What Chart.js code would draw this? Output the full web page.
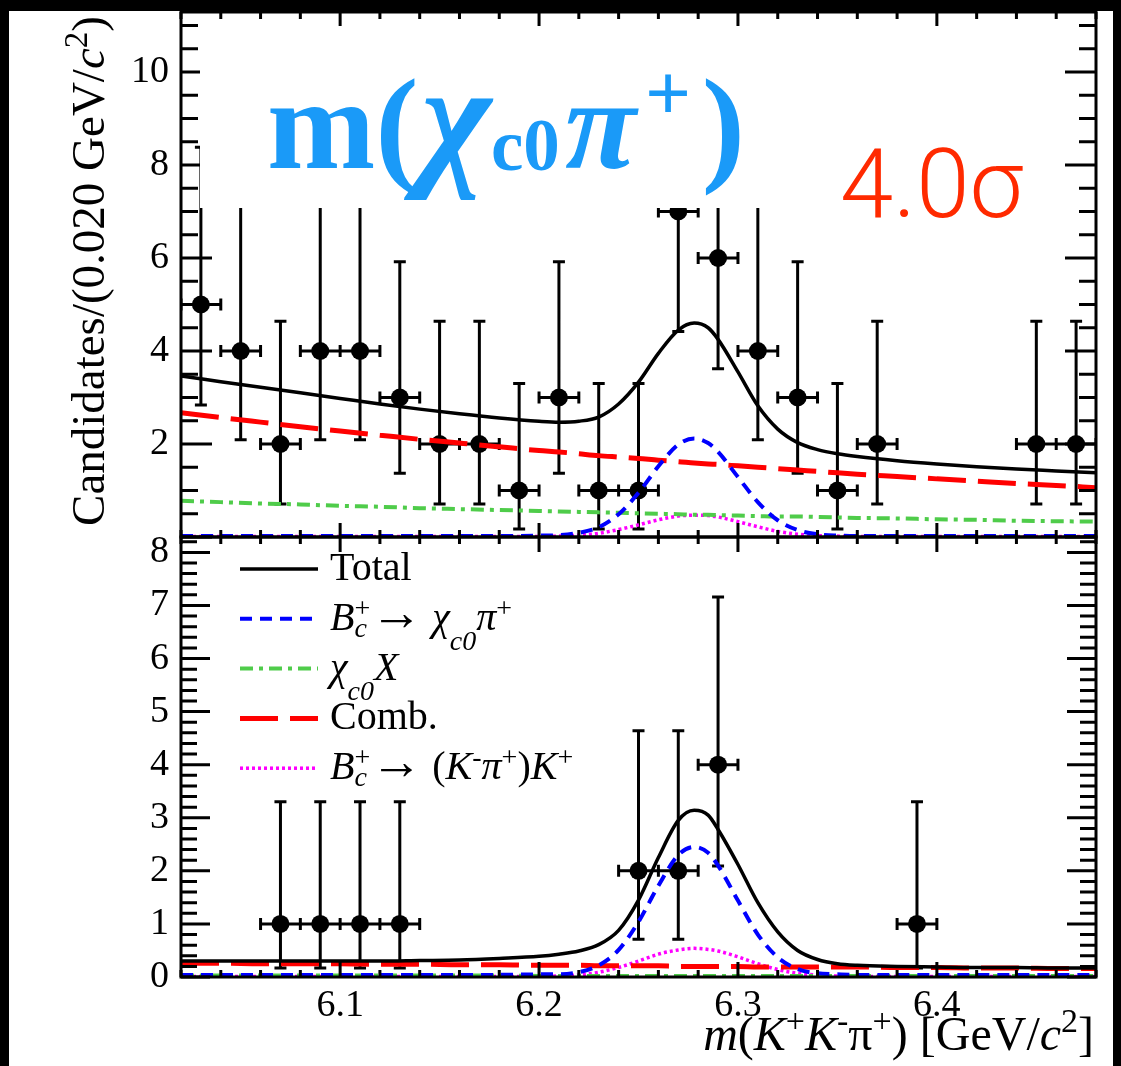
<!DOCTYPE html>
<html>
<head>
<meta charset="utf-8">
<title>m(K+K-pi+) fit</title>
<script src="https://cdn.jsdelivr.net/npm/chart.js@4.4.1/dist/chart.umd.min.js"></script>
<style>
  html, body { margin: 0; padding: 0; background: #000; }
  #page { position: relative; width: 1121px; height: 1066px; overflow: hidden; background: #000; }
  #sheet { position: absolute; left: 9px; top: 11px; width: 1104px; height: 1055px; background: #fff; }
  canvas { position: absolute; left: 0; top: 0; }
</style>
</head>
<body>
<div id="page">
  <div id="sheet"></div>
  <canvas id="topPanel" width="1121" height="1066"></canvas>
  <canvas id="bottomPanel" width="1121" height="1066"></canvas>
</div>
<script>
// ---- data -------------------------------------------------------------
const binWidth = 0.020;
const binCenters = [6.03, 6.05, 6.07, 6.09, 6.11, 6.13, 6.15, 6.17, 6.19, 6.21, 6.23, 6.25,
                    6.27, 6.29, 6.31, 6.33, 6.35, 6.37, 6.39, 6.41, 6.43, 6.45, 6.47];

// upper panel candidates per bin, with asymmetric Poisson errors
const topCounts  = [5, 4, 2, 4, 4, 3, 2, 2, 1, 3, 1, 1, 7, 6, 4, 3, 1, 2, 0, 0, 0, 2, 2];
const topErrLow  = [2.16, 1.91, 1.29, 1.91, 1.91, 1.63, 1.29, 1.29, 0.83, 1.63, 0.83, 0.83,
                    2.58, 2.38, 1.91, 1.63, 0.83, 1.29, 0, 0, 0, 1.29, 1.29];
const topErrHigh = [3.38, 3.16, 2.64, 3.16, 3.16, 2.92, 2.64, 2.64, 2.30, 2.92, 2.30, 2.30,
                    3.77, 3.58, 3.16, 2.92, 2.30, 2.64, 0, 0, 0, 2.64, 2.64];

// lower panel
const bottomCounts  = [0, 0, 1, 1, 1, 1, 0, 0, 0, 0, 0, 2, 2, 4, 0, 0, 0, 0, 1, 0, 0, 0, 0];
const bottomErrLow  = [0, 0, 0.83, 0.83, 0.83, 0.83, 0, 0, 0, 0, 0, 1.29, 1.29, 1.91, 0, 0, 0, 0, 0.83, 0, 0, 0, 0];
const bottomErrHigh = [0, 0, 2.30, 2.30, 2.30, 2.30, 0, 0, 0, 0, 0, 2.64, 2.64, 3.16, 0, 0, 0, 0, 2.30, 0, 0, 0, 0];

// fit components sampled along the mass axis
const curveMass = [6.02, 6.04, 6.06, 6.08, 6.10, 6.12, 6.14, 6.16, 6.18,
                   6.20, 6.21, 6.22, 6.23, 6.24, 6.25, 6.26, 6.27, 6.278, 6.285, 6.29, 6.30, 6.31, 6.32, 6.33, 6.34, 6.35, 6.36,
                   6.38, 6.40, 6.42, 6.44, 6.46, 6.48];

const topTotal   = [3.46, 3.34, 3.22, 3.10, 2.98, 2.86, 2.75, 2.65, 2.56,
                    2.49, 2.47, 2.49, 2.58, 2.86, 3.33, 3.95, 4.45, 4.60, 4.50, 4.25, 3.55, 2.82, 2.32, 2.03, 1.88, 1.79, 1.73,
                    1.64, 1.57, 1.51, 1.46, 1.42, 1.38];
const topSignal  = [0.02, 0.02, 0.02, 0.02, 0.02, 0.02, 0.02, 0.02, 0.02,
                    0.03, 0.04, 0.09, 0.21, 0.49, 0.95, 1.52, 1.99, 2.12, 2.02, 1.83, 1.29, 0.75, 0.36, 0.15, 0.06, 0.03, 0.02,
                    0.02, 0.02, 0.02, 0.02, 0.02, 0.02];
const topChicX   = [0.78, 0.75, 0.72, 0.70, 0.67, 0.65, 0.62, 0.60, 0.58,
                    0.56, 0.55, 0.54, 0.53, 0.52, 0.51, 0.50, 0.49, 0.48, 0.48, 0.47, 0.46, 0.45, 0.44, 0.44, 0.43, 0.42, 0.41,
                    0.40, 0.38, 0.37, 0.35, 0.34, 0.33];
const topComb    = [2.67, 2.57, 2.47, 2.37, 2.28, 2.19, 2.10, 2.02, 1.94,
                    1.86, 1.83, 1.79, 1.75, 1.72, 1.69, 1.65, 1.62, 1.59, 1.57, 1.56, 1.53, 1.50, 1.47, 1.44, 1.41, 1.38, 1.35,
                    1.30, 1.25, 1.20, 1.15, 1.11, 1.06];
const topPeaking = [0.01, 0.01, 0.01, 0.01, 0.01, 0.01, 0.01, 0.01, 0.01,
                    0.01, 0.02, 0.04, 0.08, 0.16, 0.26, 0.37, 0.45, 0.47, 0.46, 0.43, 0.33, 0.22, 0.12, 0.06, 0.03, 0.02, 0.01,
                    0.01, 0.01, 0.01, 0.01, 0.01, 0.01];

const bottomTotal   = [0.30, 0.30, 0.30, 0.30, 0.30, 0.30, 0.31, 0.32, 0.35,
                       0.39, 0.43, 0.49, 0.61, 0.88, 1.45, 2.25, 2.95, 3.14, 3.05, 2.78, 2.12, 1.40, 0.85, 0.50, 0.33, 0.25, 0.22,
                       0.20, 0.19, 0.18, 0.18, 0.17, 0.17];
const bottomSignal  = [0.04, 0.04, 0.04, 0.04, 0.04, 0.04, 0.04, 0.04, 0.04,
                       0.05, 0.05, 0.09, 0.22, 0.51, 1.04, 1.72, 2.30, 2.45, 2.34, 2.10, 1.44, 0.80, 0.37, 0.15, 0.07, 0.05, 0.04,
                       0.04, 0.04, 0.04, 0.04, 0.04, 0.04];
const bottomChicX   = [0.03, 0.03, 0.03, 0.03, 0.03, 0.03, 0.03, 0.03, 0.03,
                       0.02, 0.02, 0.02, 0.02, 0.02, 0.02, 0.02, 0.02, 0.02, 0.02, 0.02, 0.02, 0.02, 0.02, 0.02, 0.02, 0.02, 0.02,
                       0.02, 0.02, 0.02, 0.02, 0.02, 0.02];
const bottomComb    = [0.26, 0.26, 0.25, 0.25, 0.25, 0.24, 0.24, 0.23, 0.23,
                       0.22, 0.22, 0.22, 0.21, 0.21, 0.21, 0.21, 0.20, 0.20, 0.20, 0.20, 0.20, 0.19, 0.19, 0.19, 0.19, 0.19, 0.19,
                       0.18, 0.18, 0.17, 0.17, 0.16, 0.16];
const bottomPeaking = [0.01, 0.01, 0.01, 0.01, 0.01, 0.01, 0.01, 0.01, 0.01,
                       0.01, 0.02, 0.04, 0.09, 0.18, 0.30, 0.43, 0.51, 0.54, 0.52, 0.49, 0.38, 0.25, 0.14, 0.07, 0.035, 0.02, 0.01,
                       0.01, 0.01, 0.01, 0.01, 0.01, 0.01];

// axes
const massRange = [6.02, 6.48];
const xTicks = [6.1, 6.2, 6.3, 6.4];
const topYTicks = [2, 4, 6, 8, 10];
const bottomYTicks = [0, 1, 2, 3, 4, 5, 6, 7, 8];

// ---- helpers ----------------------------------------------------------
const serif = '"Liberation Serif", "Times New Roman", serif';
Chart.defaults.font.family = serif;
Chart.defaults.color = '#000';

function points(xs, ys) {
  return xs.map((x, i) => ({ x: x, y: ys[i] === 0 ? null : ys[i] }));
}

function curve(label, ys, color, dash, width, legendText) {
  return {
    label: label,
    legendText: legendText,
    data: curveMass.map((x, i) => ({ x: x, y: ys[i] })),
    showLine: true,
    pointRadius: 0,
    borderColor: color,
    borderWidth: width,
    borderDash: dash,
    cubicInterpolationMode: 'monotone',
    order: 0
  };
}

function dataPoints(counts, lo, hi) {
  return {
    label: 'Data',
    data: points(binCenters, counts),
    errLow: lo,
    errHigh: hi,
    pointRadius: 9,
    pointHoverRadius: 9,
    borderWidth: 0,
    backgroundColor: '#000',
    order: 5
  };
}

// simple rich text: italics, sub/superscripts, extra gaps
function layoutRich(ctx, segs, size, weight) {
  const items = [];
  let x = 0, held = null;
  for (const s of segs) {
    const f = s.s || (s.sub || s.sup ? 0.7 : 1);
    const dy = s.dy != null ? s.dy : (s.sub ? 0.22 : s.sup ? -0.38 : 0);
    const font = (s.i ? 'italic ' : '') + weight + ' ' + Math.round(size * f) + 'px ' + serif;
    ctx.font = font;
    const w = ctx.measureText(s.t).width;
    items.push({ t: s.t, font: font, x: x, y: dy * size });
    if (s.keep) { held = w; continue; }
    x += (held != null ? Math.max(held, w) : w) + (s.gap || 0) * size;
    held = null;
  }
  return { items: items, width: x };
}

function drawRich(ctx, segs, x0, y0, size, weight, align) {
  const lay = layoutRich(ctx, segs, size, weight || 'normal');
  const start = align === 'right' ? x0 - lay.width : align === 'center' ? x0 - lay.width / 2 : x0;
  ctx.textAlign = 'left';
  ctx.textBaseline = 'alphabetic';
  lay.items.forEach(it => { ctx.font = it.font; ctx.fillText(it.t, start + it.x, y0 + it.y); });
}

function forSteps(min, max, minor, major, fn) {
  const k0 = Math.ceil(min / minor - 1e-6), k1 = Math.floor(max / minor + 1e-6);
  for (let k = k0; k <= k1; k++) {
    const v = k * minor;
    const r = v / major;
    fn(v, Math.abs(r - Math.round(r)) < 1e-6);
  }
}

// ---- plugins ----------------------------------------------------------
const errorBars = {
  id: 'errorBars',
  beforeDatasetDraw(chart, args) {
    const ds = chart.data.datasets[args.index];
    if (!ds.errLow) return;
    const { ctx, chartArea: a, scales: { x, y } } = chart;
    const half = binWidth / 2;
    ctx.save();
    ctx.beginPath();
    ctx.rect(a.left, a.top, a.right - a.left, a.bottom - a.top);
    ctx.clip();
    ctx.strokeStyle = '#000';
    ctx.lineWidth = 3;
    ctx.beginPath();
    ds.data.forEach((p, i) => {
      if (p.y == null) return;
      const px = x.getPixelForValue(p.x), py = y.getPixelForValue(p.y);
      const yl = y.getPixelForValue(p.y - ds.errLow[i]);
      const yh = y.getPixelForValue(p.y + ds.errHigh[i]);
      const xl = x.getPixelForValue(p.x - half), xh = x.getPixelForValue(p.x + half);
      ctx.moveTo(px, yl); ctx.lineTo(px, yh);
      ctx.moveTo(px - 6, yl); ctx.lineTo(px + 6, yl);
      ctx.moveTo(px - 6, yh); ctx.lineTo(px + 6, yh);
      ctx.moveTo(xl, py); ctx.lineTo(xh, py);
      ctx.moveTo(xl, py - 6); ctx.lineTo(xl, py + 6);
      ctx.moveTo(xh, py - 6); ctx.lineTo(xh, py + 6);
    });
    ctx.stroke();
    ctx.restore();
  }
};

// ROOT style frame with inward ticks on all four sides
const frameTicks = {
  id: 'frameTicks',
  afterDraw(chart, args, o) {
    const { ctx, chartArea: a, scales: { x, y } } = chart;
    ctx.save();
    ctx.strokeStyle = '#000';
    ctx.lineWidth = 3;
    ctx.beginPath();
    forSteps(x.min, x.max, o.xMinor, o.xMajor, (v, major) => {
      const px = x.getPixelForValue(v);
      const len = major ? o.xMajorLen : o.xMinorLen;
      ctx.moveTo(px, a.bottom); ctx.lineTo(px, a.bottom - len);
      ctx.moveTo(px, a.top); ctx.lineTo(px, a.top + len);
    });
    forSteps(y.min, y.max, o.yMinor, o.yMajor, (v, major) => {
      const py = y.getPixelForValue(v);
      const len = major ? o.yMajorLen : o.yMinorLen;
      ctx.moveTo(a.left, py); ctx.lineTo(a.left + len, py);
      ctx.moveTo(a.right, py); ctx.lineTo(a.right - len, py);
    });
    ctx.stroke();
    ctx.strokeRect(a.left, a.top, a.right - a.left, a.bottom - a.top);
    ctx.restore();
  }
};

// headline box, significance and the shared y-axis title
const topDecor = {
  id: 'topDecor',
  afterDraw(chart) {
    const ctx = chart.ctx;
    ctx.save();
    ctx.fillStyle = '#fff';
    ctx.fillRect(200, 26, 575, 182);
    ctx.fillStyle = '#1a9af8';
    drawRich(ctx, [
      { t: 'm' }, { t: '(', gap: 0.02 }, { t: 'χ', i: 1, s: 1.15, gap: 0.0 },
      { t: 'c0', s: 0.56, dy: 0.015, gap: 0.04 },
      { t: 'π', i: 1, gap: 0.07 }, { t: '+', s: 0.62, dy: -0.37, gap: 0.08 }, { t: ')' }
    ], 267, 168, 130, 'bold');

    ctx.fillStyle = '#ff2a00';
    ctx.font = '300 96px Roboto, "Open Sans", sans-serif';
    ctx.textAlign = 'left';
    ctx.textBaseline = 'alphabetic';
    ctx.fillText('4.0σ', 840, 217);

    ctx.fillStyle = '#000';
    ctx.translate(104, 271);
    ctx.rotate(-Math.PI / 2);
    drawRich(ctx, [
      { t: 'Candidates/(0.020 GeV/' }, { t: 'c', i: 1 }, { t: '2', sup: 1, dy: -0.36 }, { t: ')' }
    ], 0, 0, 47, 'normal', 'center');
    ctx.restore();
  }
};

const bottomDecor = {
  id: 'bottomDecor',
  afterDraw(chart) {
    const ctx = chart.ctx;
    ctx.save();
    // legend
    chart.data.datasets.forEach((ds, i) => {
      if (!ds.legendText) return;
      const rowY = 569 + i * 49.8;
      ctx.strokeStyle = ds.borderColor;
      ctx.lineWidth = ds.borderWidth;
      ctx.setLineDash(ds.borderDash || []);
      ctx.beginPath();
      ctx.moveTo(240, rowY);
      ctx.lineTo(318, rowY);
      ctx.stroke();
      ctx.setLineDash([]);
      ctx.fillStyle = '#000';
      drawRich(ctx, ds.legendText, 330, rowY + 11, 40, 'normal');
    });
    // x-axis title
    ctx.fillStyle = '#000';
    drawRich(ctx, [
      { t: 'm', i: 1 }, { t: '(' }, { t: 'K', i: 1 }, { t: '+', sup: 1 }, { t: 'K', i: 1 }, { t: '-', sup: 1 },
      { t: 'π' }, { t: '+', sup: 1 }, { t: ') [GeV/' }, { t: 'c', i: 1 }, { t: '2', sup: 1 }, { t: ']' }
    ], 1094, 1050, 48, 'normal', 'right');
    ctx.restore();
  }
};

// ---- charts -----------------------------------------------------------
const lineStyles = {
  total:   { color: '#000000', dash: [],            width: 3.5 },
  signal:  { color: '#0000ff', dash: [12, 8],       width: 4 },
  chicX:   { color: '#4fcc4a', dash: [13, 6, 4, 6], width: 4 },
  comb:    { color: '#ff0000', dash: [38, 12],      width: 5 },
  peaking: { color: '#ff00ff', dash: [3, 3],        width: 3.5 }
};

const arrow = { t: '→', s: 1.3, dy: 0, gap: 0.25 };
const legendLabels = {
  total: [{ t: 'Total' }],
  signal: [{ t: 'B', i: 1 }, { t: '+', sup: 1, dy: -0.33, keep: 1 }, { t: 'c', i: 1, sub: 1, dy: 0.18 },
           arrow, { t: 'χ', i: 1 }, { t: 'c0', i: 1, sub: 1, dy: 0.5 }, { t: 'π', i: 1 }, { t: '+', sup: 1, dy: -0.33 }],
  chicX: [{ t: 'χ', i: 1 }, { t: 'c0', i: 1, sub: 1, dy: 0.5 }, { t: 'X', i: 1 }],
  comb: [{ t: 'Comb.' }],
  peaking: [{ t: 'B', i: 1 }, { t: '+', sup: 1, dy: -0.33, keep: 1 }, { t: 'c', i: 1, sub: 1, dy: 0.18 },
            arrow, { t: '(' }, { t: 'K', i: 1 }, { t: '-', sup: 1, dy: -0.33 }, { t: 'π', i: 1 }, { t: '+', sup: 1, dy: -0.33 },
            { t: ')' }, { t: 'K', i: 1 }, { t: '+', sup: 1, dy: -0.33 }]
};

function curveSet(vals, withLegend) {
  const keys = ['total', 'signal', 'chicX', 'comb', 'peaking'];
  return keys.map(k => curve(k, vals[k], lineStyles[k].color, lineStyles[k].dash, lineStyles[k].width,
                             withLegend ? legendLabels[k] : null));
}

function yAxis(max, ticks) {
  return {
    type: 'linear', min: 0, max: max,
    grid: { display: false, drawTicks: false },
    border: { display: false },
    afterBuildTicks: s => { s.ticks = ticks.map(v => ({ value: v })); },
    afterFit: s => { s.width = 181; s.paddingTop = 0; s.paddingBottom = 0; },
    ticks: { font: { size: 38, family: serif }, color: '#000', padding: 12, autoSkip: false }
  };
}

new Chart(document.getElementById('topPanel'), {
  type: 'scatter',
  data: {
    datasets: curveSet({ total: topTotal, signal: topSignal, chicX: topChicX, comb: topComb, peaking: topPeaking }, false)
      .concat([dataPoints(topCounts, topErrLow, topErrHigh)])
  },
  options: {
    responsive: false, animation: false, devicePixelRatio: 1, events: [],
    layout: { padding: { left: 0, top: 12, right: 25, bottom: 529 } },
    plugins: {
      legend: { display: false }, tooltip: { enabled: false },
      frameTicks: { xMinor: 0.02, xMajor: 0.1, xMinorLen: 7, xMajorLen: 14,
                    yMinor: 0.5, yMajor: 2, yMinorLen: 17, yMajorLen: 31 }
    },
    scales: {
      x: { type: 'linear', min: massRange[0], max: massRange[1], display: false },
      y: yAxis(11.29, topYTicks)
    }
  },
  plugins: [errorBars, frameTicks, topDecor]
});

new Chart(document.getElementById('bottomPanel'), {
  type: 'scatter',
  data: {
    datasets: curveSet({ total: bottomTotal, signal: bottomSignal, chicX: bottomChicX, comb: bottomComb, peaking: bottomPeaking }, true)
      .concat([dataPoints(bottomCounts, bottomErrLow, bottomErrHigh)])
  },
  options: {
    responsive: false, animation: false, devicePixelRatio: 1, events: [],
    layout: { padding: { left: 0, top: 537, right: 25, bottom: 0 } },
    plugins: {
      legend: { display: false }, tooltip: { enabled: false },
      frameTicks: { xMinor: 0.02, xMajor: 0.1, xMinorLen: 7, xMajorLen: 15,
                    yMinor: 0.2, yMajor: 1, yMinorLen: 16, yMajorLen: 29 }
    },
    scales: {
      x: {
        type: 'linear', min: massRange[0], max: massRange[1],
        grid: { display: false, drawTicks: false },
        border: { display: false },
        afterBuildTicks: s => { s.ticks = xTicks.map(v => ({ value: v })); },
        afterFit: s => { s.height = 89; s.paddingLeft = 0; s.paddingRight = 0; },
        ticks: { font: { size: 38, family: serif }, color: '#000', padding: 6, maxRotation: 0, autoSkip: false,
                 callback: v => v.toFixed(1) }
      },
      y: yAxis(8.29, bottomYTicks)
    }
  },
  plugins: [errorBars, frameTicks, bottomDecor]
});
</script>
</body>
</html>
